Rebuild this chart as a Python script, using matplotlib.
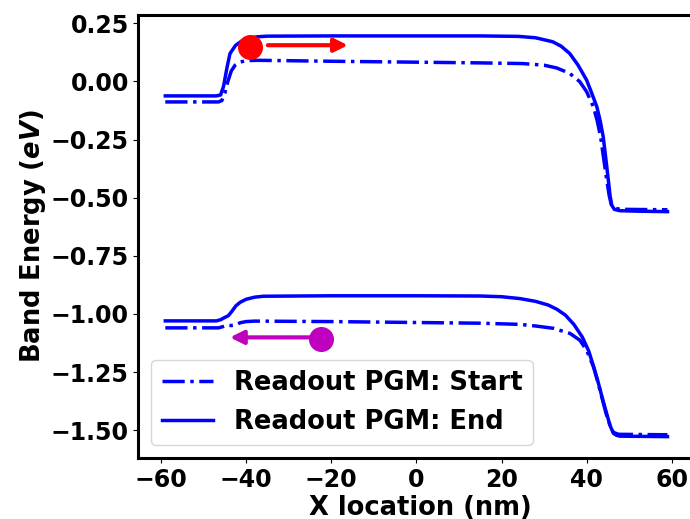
import matplotlib
matplotlib.use("Agg")
from matplotlib import pyplot as plt

# band edges (x in nm, energy in eV)
cb_start_x = [-59, -46.5, -45.7, -45, -44.3, -43.5, -42.6, -41.5, -40, -37, -20, 0, 15, 25, 30, 33, 36,
              38.4, 40, 41.6, 42.5, 43.3, 44, 44.7, 45.3, 45.8, 46.5, 48, 59]
cb_start_y = [-0.088, -0.088, -0.082, -0.05, 0.0, 0.045, 0.07, 0.083, 0.09, 0.091, 0.087, 0.083, 0.08,
              0.077, 0.07, 0.058, 0.035, -0.001, -0.044, -0.109, -0.17, -0.24, -0.33, -0.42, -0.49,
              -0.53, -0.545, -0.55, -0.552]

cb_end_x = [-59, -47, -46, -45.3, -44.5, -43.8, -42.5, -41, -39.5, -37.5, -35, -20, 0, 15, 24, 28, 32,
            34, 36, 38, 40, 41.2, 42.4, 43.2, 43.9, 44.5, 45.1, 45.5, 45.9, 46.5, 47.8, 52, 59]
cb_end_y = [-0.062, -0.062, -0.058, -0.02, 0.06, 0.12, 0.155, 0.175, 0.185, 0.192, 0.195, 0.196, 0.196,
            0.196, 0.194, 0.188, 0.171, 0.152, 0.121, 0.07, 0.006, -0.05, -0.109, -0.17, -0.238, -0.33,
            -0.424, -0.49, -0.532, -0.55, -0.556, -0.558, -0.56]

vb_start_x = [-59, -46.5, -45.5, -44.5, -43.5, -42.5, -41.4, -40, -38, -20, 0, 15, 24.3, 28, 32.2, 36.1,
              38.4, 40, 41.6, 42.6, 43.6, 44.6, 45.5, 46.3, 47.5, 59]
vb_start_y = [-1.06, -1.06, -1.055, -1.048, -1.05, -1.048, -1.038, -1.033, -1.031, -1.033, -1.037, -1.04,
              -1.045, -1.052, -1.062, -1.084, -1.113, -1.156, -1.227, -1.29, -1.36, -1.43, -1.48, -1.51,
              -1.518, -1.52]

vb_end_x = [-59, -47, -46, -45, -44.2, -43.4, -42.4, -41.4, -40, -38, -36, -20, 0, 15, 20, 24.3, 28,
            31, 33, 35, 37, 39, 40.5, 41.7, 42.8, 43.8, 44.7, 45.5, 46.3, 47, 47.8, 59]
vb_end_y = [-1.03, -1.03, -1.025, -1.015, -1.008, -0.99, -0.965, -0.95, -0.937, -0.928, -0.924, -0.922,
            -0.922, -0.923, -0.926, -0.934, -0.946, -0.962, -0.98, -1.005, -1.045, -1.1, -1.16, -1.23,
            -1.3, -1.37, -1.428, -1.48, -1.514, -1.522, -1.526, -1.528]

# carriers and the direction they move
electron_xy = (-39.1, 0.148)
electron_arrow = [(-34.9, 0.156), (-16.1, 0.156)]
hole_xy = (-22.3, -1.106)
hole_arrow = [(-25.0, -1.101), (-43.8, -1.101)]

plt.rcParams['font.weight'] = 'bold'
plt.rcParams['mathtext.fontset'] = 'custom'
plt.rcParams['mathtext.it'] = 'DejaVu Sans:italic:bold'

fig = plt.figure(figsize=(6.9, 5.19), dpi=100)
# right edge of the axes runs past the figure, as in the cropped original
ax = fig.add_axes([0.2007, 0.1175, 0.816, 0.8536])

ax.plot(cb_start_x, cb_start_y, 'b-.', lw=2.5, label='Readout PGM: Start')
ax.plot(cb_end_x, cb_end_y, 'b-', lw=2.5, label='Readout PGM: End')
ax.plot(vb_start_x, vb_start_y, 'b-.', lw=2.5)
ax.plot(vb_end_x, vb_end_y, 'b-', lw=2.5)

ax.plot(*electron_xy, 'o', color='r', markersize=17)
ax.annotate('', xy=electron_arrow[1], xytext=electron_arrow[0],
            arrowprops=dict(arrowstyle='-|>', color='r', lw=3, mutation_scale=20, shrinkA=0, shrinkB=0))
ax.plot(*hole_xy, 'o', color='m', markersize=17)
ax.annotate('', xy=hole_arrow[1], xytext=hole_arrow[0],
            arrowprops=dict(arrowstyle='-|>', color='m', lw=3, mutation_scale=20, shrinkA=0, shrinkB=0))

ax.set_xlim(-65.3, 67)
ax.set_ylim(-1.62, 0.286)
ax.set_xticks([-60, -40, -20, 0, 20, 40, 60])
ax.set_yticks([0.25, 0.0, -0.25, -0.5, -0.75, -1.0, -1.25, -1.5])
ax.tick_params(labelsize=17)
for s in ax.spines.values():
    s.set_linewidth(2.2)

ax.set_xlabel('X location (nm)', fontsize=18.5, fontweight='bold', labelpad=2)
ax.set_ylabel(r'Band Energy ($\it{eV}$)', fontsize=18.5, fontweight='bold', labelpad=2)
ax.legend(loc='lower left', prop={'weight': 'bold', 'size': 18.5})

plt.savefig('out.png', dpi=100)
